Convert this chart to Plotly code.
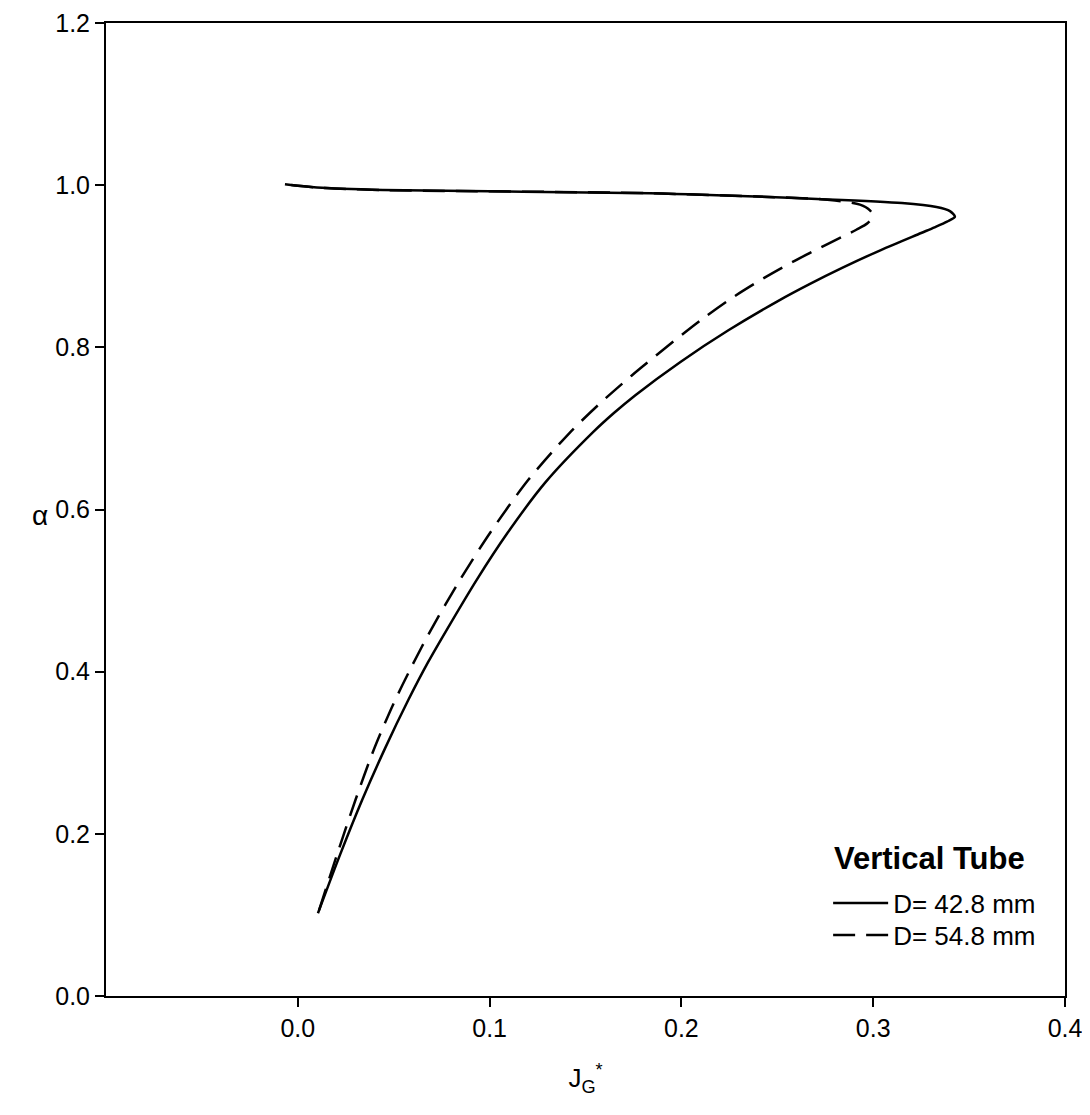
import plotly.graph_objects as go

# Data (J_G*, alpha)
d428_x = [0.0105, 0.0220, 0.0336, 0.0456, 0.0576, 0.0680, 0.0775, 0.0932, 0.1093,
          0.1293, 0.1542, 0.1648, 0.1760, 0.1995, 0.2245, 0.2510, 0.2668, 0.2838,
          0.3040, 0.3250, 0.3320, 0.3385, 0.3426, 0.3400, 0.3330, 0.3150, 0.2707,
          0.1836, 0.0444, 0.0100, -0.0067]
d428_y = [0.102, 0.174, 0.242, 0.306, 0.365, 0.412, 0.451, 0.513, 0.571,
          0.634, 0.696, 0.719, 0.741, 0.782, 0.821, 0.858, 0.878, 0.898,
          0.920, 0.941, 0.948, 0.955, 0.961, 0.968, 0.973, 0.978, 0.983,
          0.990, 0.994, 0.997, 1.001]

d548_x = [0.0111, 0.0204, 0.0301, 0.0395, 0.0496, 0.0597, 0.0693, 0.0845, 0.1002,
          0.1200, 0.1415, 0.1567, 0.1740, 0.2021, 0.2115, 0.2277, 0.2434, 0.2593,
          0.2759, 0.2912, 0.2970, 0.2999, 0.2983, 0.2931, 0.2801, 0.2707, 0.1836,
          0.0444, 0.0100, -0.0067]
d548_y = [0.106, 0.174, 0.242, 0.303, 0.359, 0.408, 0.451, 0.513, 0.571,
          0.636, 0.694, 0.729, 0.765, 0.819, 0.836, 0.863, 0.886, 0.907,
          0.927, 0.945, 0.953, 0.962, 0.969, 0.976, 0.981, 0.983, 0.990,
          0.994, 0.997, 1.001]

series_names = ["D= 42.8 mm", "D= 54.8 mm"]
legend_title = "Vertical Tube"
x_ticks = [0.0, 0.1, 0.2, 0.3, 0.4]
x_tick_text = ["0.0", "0.1", "0.2", "0.3", "0.4"]
y_ticks = [0.0, 0.2, 0.4, 0.6, 0.8, 1.0, 1.2]
y_tick_text = ["0.0", "0.2", "0.4", "0.6", "0.8", "1.0", "1.2"]

FONT = "Liberation Sans, Arial, sans-serif"

fig = go.Figure()
fig.add_trace(go.Scatter(x=d428_x, y=d428_y, mode="lines", name=series_names[0],
                         legend="legend",
                         line=dict(color="black", width=2.5, shape="spline", smoothing=0.8)))
fig.add_trace(go.Scatter(x=d548_x, y=d548_y, mode="lines", name=series_names[1],
                         legend="legend2",
                         line=dict(color="black", width=2.5, dash="22px,11px",
                                   shape="spline", smoothing=0.8)))

leg_common = dict(x=0.753, xanchor="left", yanchor="middle",
                  bgcolor="rgba(0,0,0,0)", borderwidth=0,
                  font=dict(family=FONT, size=26, color="black"), itemwidth=55)

fig.update_layout(
    template="none",
    width=1074, height=1099,
    margin=dict(l=98, r=17, t=15, b=111),
    paper_bgcolor="white", plot_bgcolor="white",
    font=dict(family=FONT, size=25, color="black"),
    showlegend=True,
    legend=dict(y=0.0956, **leg_common),
    legend2=dict(y=0.0627, **leg_common),
    xaxis=dict(
        range=[-0.1, 0.4], tickvals=x_ticks, ticktext=x_tick_text, automargin=False,
        showgrid=False, zeroline=False, showline=True, linecolor="black", linewidth=2,
        mirror=True, ticks="outside", ticklen=9, tickwidth=2, tickcolor="black",
        tickfont=dict(family=FONT, size=25), ticklabeloverflow="allow",
        title=dict(text="J<sub>G</sub><sup>*</sup>", standoff=28,
                   font=dict(family=FONT, size=26)),
    ),
    yaxis=dict(
        range=[0, 1.2], tickvals=y_ticks, ticktext=y_tick_text, automargin=False,
        showgrid=False, zeroline=False, showline=True, linecolor="black", linewidth=2,
        mirror=True, ticks="outside", ticklen=9, tickwidth=2, tickcolor="black",
        tickfont=dict(family=FONT, size=25), ticklabeloverflow="allow",
    ),
    annotations=[
        dict(text="α", xref="paper", yref="paper", x=-0.069, y=0.494,
             showarrow=False, font=dict(family=FONT, size=28),
             xanchor="center", yanchor="middle"),
        dict(text="<b>" + legend_title + "</b>", xref="paper", yref="paper",
             x=0.757, y=0.1418, showarrow=False, xanchor="left", yanchor="middle",
             font=dict(family=FONT, size=31, color="black")),
    ],
)

fig.write_html("out.html")
